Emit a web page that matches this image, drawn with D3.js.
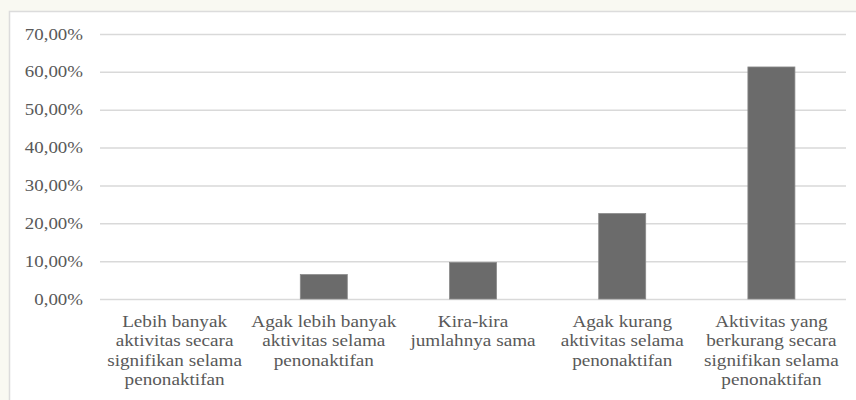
<!DOCTYPE html>
<html>
<head>
<meta charset="utf-8">
<script src="https://cdn.jsdelivr.net/npm/d3@7"></script>
<style>
  html, body { margin: 0; padding: 0; background: #f9f9f2; }
  svg { display: block; }
</style>
</head>
<body>
<div id="dataviz"></div>
<script>
// data
var categories = [
    ["Lebih banyak", "aktivitas secara", "signifikan selama", "penonaktifan"],
    ["Agak lebih banyak", "aktivitas selama", "penonaktifan"],
    ["Kira-kira", "jumlahnya sama"],
    ["Agak kurang", "aktivitas selama", "penonaktifan"],
    ["Aktivitas yang", "berkurang secara", "signifikan selama", "penonaktifan"]
];
var values = [0, 6.45, 9.68, 22.58, 61.29];
var yTicks = [0, 10, 20, 30, 40, 50, 60, 70];

var widthFull = 856;
var heightFull = 400;
var margin = { top: 34, right: 10, bottom: 101, left: 100 };
var width = widthFull - margin.left - margin.right;
var height = heightFull - margin.top - margin.bottom;

var svg = d3.select("#dataviz").append("svg")
    .attr("width", widthFull)
    .attr("height", heightFull);

// white chart panel
svg.append("rect")
    .attr("x", 9.5)
    .attr("y", 11.5)
    .attr("width", widthFull)
    .attr("height", heightFull)
    .attr("fill", "#ffffff")
    .attr("stroke", "#dcdcdc")
    .attr("stroke-width", 1.5);

var g = svg.append("g")
    .attr("transform", "translate(" + margin.left + "," + margin.top + ")");

var x = d3.scaleBand()
    .domain(d3.range(categories.length))
    .range([0, width])
    .paddingInner(0.685)
    .paddingOuter(0.3425);
var y = d3.scaleLinear().domain([0, 70]).range([height, 0]);

var fmt = function(d) { return d3.format(".2f")(d).replace(".", ",") + "%"; };

// gridlines + y labels
var yAxis = g.append("g")
    .attr("class", "y-axis")
    .call(d3.axisLeft(y).tickValues(yTicks).tickSize(-width).tickPadding(17).tickFormat(fmt));
yAxis.select(".domain").remove();
yAxis.selectAll(".tick line")
    .attr("stroke", "#d9d9d9")
    .attr("stroke-width", 1.5);
yAxis.selectAll(".tick text")
    .attr("fill", "#595959")
    .attr("font-family", "'Liberation Serif', 'Times New Roman', serif")
    .attr("font-size", 16)
    .attr("transform", function() {
        return "scale(1.18,1)";
    })
    .attr("x", -17 / 1.18);

// bars
g.selectAll(".bar")
    .data(values)
    .enter().append("rect")
    .attr("class", "bar")
    .attr("x", (d, i) => x(i))
    .attr("y", d => y(d))
    .attr("width", x.bandwidth())
    .attr("height", d => height - y(d))
    .attr("fill", "#6b6b6b")
    .attr("stroke", "#8a8a8a")
    .attr("stroke-width", d => d > 0 ? 0.8 : 0);

// category labels
var step = x.step();
var lab = g.selectAll(".cat")
    .data(categories)
    .enter().append("g")
    .attr("class", "cat")
    .attr("transform", (d, i) => "translate(" + (x(i) + x.bandwidth() / 2) + "," + (height + 28) + ") scale(1.2,1)");

lab.each(function(lines) {
    var t = d3.select(this).append("text")
        .attr("text-anchor", "middle")
        .attr("fill", "#595959")
        .attr("font-family", "'Liberation Serif', 'Times New Roman', serif")
        .attr("font-size", 16);
    lines.forEach(function(l, k) {
        t.append("tspan").attr("x", 0).attr("y", k * 19.5).text(l);
    });
});
</script>
</body>
</html>
